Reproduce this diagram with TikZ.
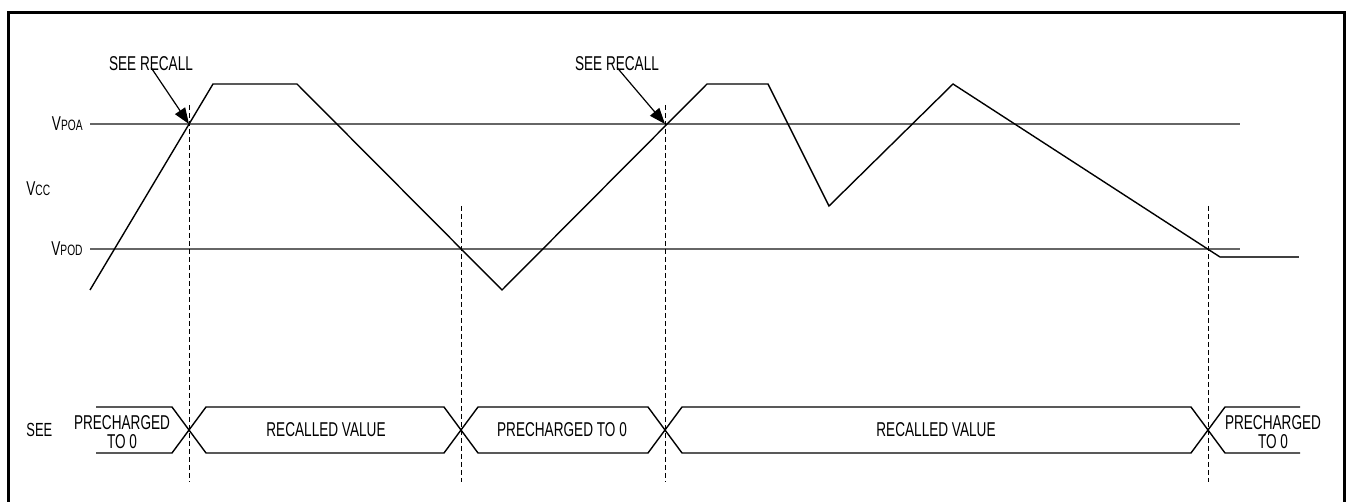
\documentclass[tikz,border=0pt]{standalone}
\usepackage{fontspec}
\setmainfont{Liberation Sans}[FakeStretch=0.68]
\usetikzlibrary{arrows.meta,positioning}

\newcommand{\lvsub}[2]{#1{\fontsize{7.5}{7.5}\selectfont #2}}

\begin{document}
\begin{tikzpicture}[x=0.5pt,y=-0.5pt,font=\fontsize{10}{9.2}\selectfont]
			\tikzstyle{Level}	= [draw=black!60, line width=0.75pt]
			\tikzstyle{Signal}	= [draw=black, line width=0.7pt, line join=miter]
			\tikzstyle{Marker}	= [draw=black, line width=0.5pt, dash pattern=on 2.5pt off 1.5pt]
			\tikzstyle{Callout}	= [draw=black, line width=0.6pt, -{Triangle[length=8pt,width=6pt]}]
			\tikzstyle{Lbl}		= [inner sep=0pt, align=center]

			\clip (0,0) rectangle (1346,502);
			\draw [line width=1.5pt] (8,540) -- (8,13) -- (1344,13) -- (1344,540);

			% threshold levels
			\coordinate (poaL) at (90,124);  \coordinate (poaR) at (1240,124);
			\coordinate (podL) at (90,249);  \coordinate (podR) at (1240,249);
			\draw [Level] (poaL) -- (poaR);
			\draw [Level] (podL) -- (podR);
			\node (vpoa) at (83,124) [Lbl, anchor=east] {\lvsub{V}{POA}};
			\node (vcc)  at (26,189) [Lbl, anchor=west] {\lvsub{V}{CC}};
			\node (vpod) at (83,249) [Lbl, anchor=east] {\lvsub{V}{POD}};

			% supply waveform
			\coordinate (w0) at (90,290);
			\coordinate (w1) at (213,84);
			\coordinate (w2) at (297,84);
			\coordinate (w3) at (502,290);
			\coordinate (w4) at (707,84);
			\coordinate (w5) at (768,84);
			\coordinate (w6) at (829,206);
			\coordinate (w7) at (953,84);
			\coordinate (w8) at (1220,257);
			\coordinate (w9) at (1299,257);
			\draw [Signal] (w0) -- (w1) -- (w2) -- (w3) -- (w4) -- (w5) -- (w6) -- (w7) -- (w8);
			\draw [Signal, draw=black!75, line width=0.9pt] (w8) -- (w9);

			% event markers
			\foreach \mx/\mtop in {189/105, 461/206, 665/105, 1208/206}
				\draw [Marker] (\mx,\mtop) -- (\mx,482);

			% recall callouts
			\coordinate (hitA) at (189,124);
			\coordinate (hitB) at (665,124);
			\node (seeA) at (151,64) [Lbl] {SEE RECALL};
			\node (seeB) at (617,64) [Lbl] {SEE RECALL};
			\draw [Callout] (seeA.south) ++(0,-4) -- (hitA);
			\draw [Callout] (seeB.south) ++(0,-4) -- (hitB);

			% SEE bus
			\node (see) at (26,430) [Lbl, anchor=west, font=\fontsize{9.5}{9.5}\selectfont] {SEE};
			\draw [Signal] (96,407) -- (172,407) -- (206,453) -- (444,453) -- (478,407) -- (648,407)
				-- (682,453) -- (1191,453) -- (1225,407) -- (1300,407);
			\draw [Signal] (96,453) -- (172,453) -- (206,407) -- (444,407) -- (478,453) -- (648,453)
				-- (682,407) -- (1191,407) -- (1225,453) -- (1300,453);
			\node (pre1) at (122,432) [Lbl] {PRECHARGED\\TO 0};
			\node (rec1) at (326,430) [Lbl] {RECALLED VALUE};
			\node (pre2) at (562,430) [Lbl] {PRECHARGED TO 0};
			\node (rec2) at (936,430) [Lbl] {RECALLED VALUE};
			\node (pre3) at (1273,432) [Lbl] {PRECHARGED\\TO 0};
		\end{tikzpicture}
\end{document}
